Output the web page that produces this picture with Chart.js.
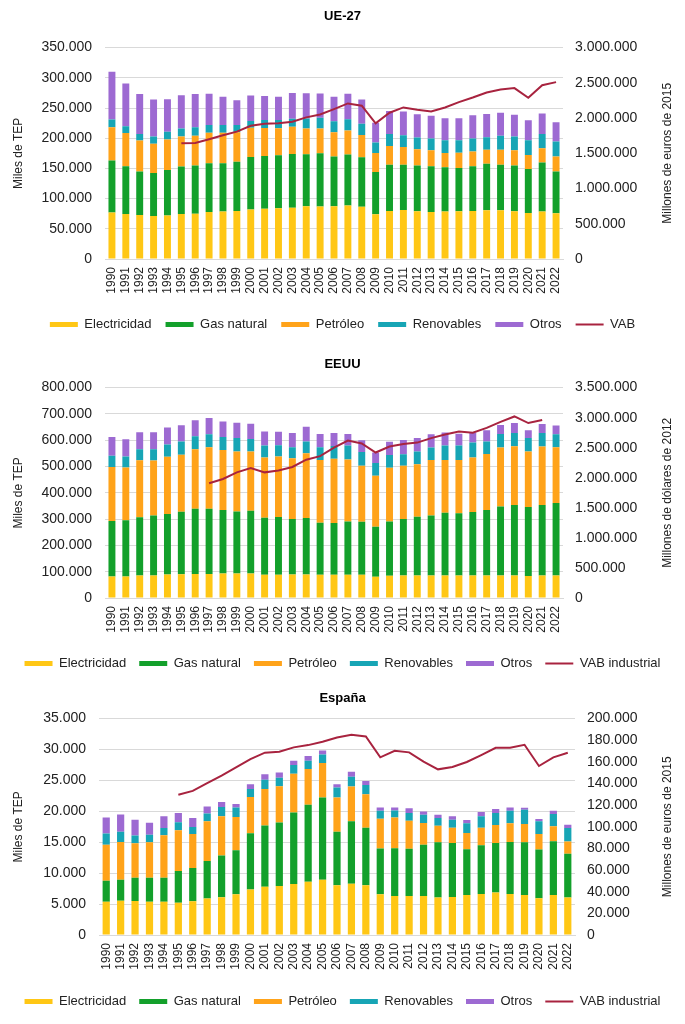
<!DOCTYPE html>
<html>
<head>
<meta charset="utf-8">
<script src="https://cdn.jsdelivr.net/npm/chart.js@4.4.1/dist/chart.umd.min.js"></script>
<style>
	html, body { margin: 0; padding: 0; background: #fff; }
	.box { position: absolute; left: 0; width: 685px; }
</style>
</head>
<body>
<div class="box" style="top:0px;height:350px"><canvas id="chartUE"></canvas></div>
<div class="box" style="top:342px;height:350px"><canvas id="chartUS"></canvas></div>
<div class="box" style="top:680px;height:344px"><canvas id="chartES"></canvas></div>
<script>
'use strict'

const years = ['1990','1991','1992','1993','1994','1995','1996','1997','1998','1999','2000','2001','2002','2003','2004','2005','2006','2007','2008','2009','2010','2011','2012','2013','2014','2015','2016','2017','2018','2019','2020','2021','2022']
const seriesNames = ['Electricidad', 'Gas natural', 'Petróleo', 'Renovables', 'Otros']

// UE-27 (miles de TEP / millones de euros de 2015)
const ueElectricidad = [77000,74600,73000,71000,72000,74600,75000,78000,78500,79500,81800,83400,84000,85000,87300,87000,87300,88400,86700,74000,79600,81000,79000,78000,78500,79000,79600,80700,80700,79000,76000,78500,75700]
const ueGas = [86000,79000,72000,71500,75500,78400,80000,80600,80000,81500,87200,87300,87800,89000,86200,88000,82300,84600,81800,70000,76400,75000,75700,75600,73500,71800,74000,76800,75300,76000,73000,81200,69300]
const uePetroleo = [55000,55000,51000,48500,50500,50000,49000,50400,50500,49000,48500,46300,44800,45000,42500,41000,40400,39700,37000,31700,31000,29600,27100,26400,23700,25200,24400,23200,25000,25000,23000,23700,24600]
const ueRenovables = [13000,11000,11000,12000,12500,13000,14000,13000,13000,12000,11000,13000,13400,13000,16600,18000,18000,18800,18500,17100,20000,19400,19200,19400,21000,20700,21400,21000,23000,22800,24700,23600,24900]
const ueOtros = [79000,71000,66000,61000,54000,55000,55000,51500,46500,41000,42000,40000,38500,43000,42000,40000,40500,42000,40000,32600,38000,39000,38800,37600,36300,36300,38600,38300,38000,35900,33100,34000,32000]
const ueVab = [null,null,null,null,null,1642000,1645000,1700000,1755000,1807000,1890000,1920000,1925000,1948000,2010000,2050000,2127000,2208000,2175000,1925000,2076000,2151000,2118000,2094000,2151000,2226000,2292000,2363000,2406000,2425000,2288000,2467000,2510000]

// EEUU (miles de TEP / millones de dólares de 2012)
const usElectricidad = [82000,82000,86000,86000,89000,90000,91000,91000,93000,93000,93000,88000,88000,89000,89000,88000,88000,88000,88000,81000,85000,86000,86000,86000,86000,86000,86000,86000,86000,86000,84000,86000,86000]
const usGas = [211000,214000,221000,228000,230000,238000,248000,248000,242000,236000,239000,217000,220000,211000,215000,198000,197000,203000,202000,190000,206000,214000,223000,228000,238000,236000,241000,249000,262000,268000,262000,268000,275000]
const usPetroleo = [205000,200000,217000,209000,218000,217000,227000,234000,228000,228000,225000,229000,230000,231000,246000,239000,244000,236000,213000,194000,204000,203000,200000,211000,201000,203000,207000,213000,224000,223000,211000,222000,212000]
const usRenovables = [43000,42000,42000,43000,47000,50000,49000,50000,49000,51000,48000,46000,43000,42000,45000,48000,49000,53000,52000,48000,49000,44000,48000,47000,55000,55000,57000,47000,52000,50000,51000,51000,50000]
const usOtros = [71000,66000,64000,64000,64000,62000,61000,61000,59000,58000,58000,53000,51000,54000,56000,51000,49000,44000,45000,40000,50000,54000,51000,51000,49000,45000,37000,43000,34000,38000,30000,35000,33000]
const usVab = [null,null,null,null,null,null,null,1910000,1980000,2090000,2160000,2090000,2120000,2180000,2300000,2360000,2500000,2620000,2570000,2420000,2520000,2560000,2585000,2660000,2720000,2770000,2750000,2830000,2930000,3020000,2910000,2960000,null]

// España (miles de TEP / millones de euros de 2015)
const esElectricidad = [5360,5520,5500,5360,5360,5200,5470,5900,6100,6600,7340,7820,7930,8250,8630,8950,8040,8300,8040,6600,6320,6320,6320,6060,6160,6480,6650,6860,6650,6480,5950,6480,6060]
const esGas = [3430,3430,3770,3910,3910,5140,5360,6050,6760,7120,9110,9880,10270,11580,12430,13290,8660,10080,9320,7390,7720,7610,8260,8940,8740,7400,7870,8040,8410,8520,7880,8690,7070]
const esPetroleo = [5790,6110,5570,5730,6860,6590,5510,6430,6330,5360,5850,5900,5860,6270,5790,5560,5540,5620,5420,4810,4960,4560,3530,2680,2460,2620,2840,2900,3000,2950,2510,2410,1980]
const esRenovables = [1820,1640,1240,1200,1170,1290,1130,1290,1500,1550,1300,1500,1390,1400,1340,1400,1610,1600,1500,1300,1150,1230,1340,1240,1290,1560,1830,1920,2040,2310,2040,1980,2190]
const esOtros = [2600,2800,2570,1970,1890,1500,1450,1130,810,570,800,900,850,700,750,650,550,800,620,530,480,780,540,530,540,540,690,640,530,320,380,540,550]
const esVab = [null,null,null,null,null,129600,133200,140300,147300,155000,162600,168500,169400,173400,175500,178600,182500,185000,183500,164200,170300,168800,160200,153100,155300,159900,166300,173000,173000,175800,156200,164200,168500]

const colors = {
	electricidad: '#FFC715',
	gas: '#13A02B',
	petroleo: '#FFA31A',
	renovables: '#17A5B5',
	otros: '#9D6AD2',
	vab: '#A8233F',
	grid: '#D9D9D9',
	text: '#222222',
}
const barColors = [colors.electricidad, colors.gas, colors.petroleo, colors.renovables, colors.otros]
const fontFamily = '"Liberation Sans", Arial, sans-serif'

let fmt = function(v) {
	return String(v).replace(/\B(?=(\d{3})+(?!\d))/g, '.')
}

// right axis title reads bottom-to-top like the left one
const rightTitle = {
	id: 'rightTitle',
	afterDraw(chart, args, opts) {
		const { ctx, chartArea } = chart
		ctx.save()
		ctx.translate(opts.x, (chartArea.top + chartArea.bottom) / 2)
		ctx.rotate(-Math.PI / 2)
		ctx.textAlign = 'center'
		ctx.textBaseline = 'middle'
		ctx.font = '12px ' + fontFamily
		ctx.fillStyle = colors.text
		ctx.fillText(opts.text, 0, 0)
		ctx.restore()
	},
}

let makeChart = function(id, cfg) {
	let datasets = cfg.bars.map((values, i) => ({
		type: 'bar',
		label: seriesNames[i],
		data: values,
		backgroundColor: barColors[i],
		borderWidth: 0,
		barPercentage: 0.5,
		categoryPercentage: 1,
		yAxisID: 'y',
		order: 1,
	}))
	datasets.push({
		type: 'line',
		label: cfg.lineLabel,
		data: cfg.line,
		borderColor: colors.vab,
		backgroundColor: colors.vab,
		borderWidth: 2,
		pointRadius: 0,
		tension: 0,
		yAxisID: 'y1',
		order: 0,
	})

	return new Chart(document.getElementById(id), {
		type: 'bar',
		data: { labels: years, datasets: datasets },
		options: {
			responsive: true,
			maintainAspectRatio: false,
			animation: false,
			layout: { padding: { left: 0, right: 0, top: 0, bottom: cfg.padBottom } },
			plugins: {
				title: {
					display: true,
					text: cfg.title,
					color: '#000',
					font: { family: fontFamily, size: 13, weight: 'bold' },
					padding: { top: cfg.titleTop, bottom: cfg.titleBottom },
				},
				legend: {
					position: 'bottom',
					labels: {
						usePointStyle: true,
						pointStyleWidth: 28,
						boxWidth: 28,
						boxHeight: 5,
						padding: cfg.legendGap,
						color: colors.text,
						font: { family: fontFamily, size: 13 },
						generateLabels(chart) {
							let items = Chart.defaults.plugins.legend.labels.generateLabels(chart)
							items.forEach((it) => {
								it.pointStyle = chart.data.datasets[it.datasetIndex].type === 'line' ? 'line' : 'rect'
							})
							items.sort((a, b) => a.datasetIndex - b.datasetIndex)
							return items
						},
					},
				},
				tooltip: { enabled: false },
				rightTitle: { text: cfg.rightTitle, x: 668 },
			},
			scales: {
				x: {
					stacked: true,
					grid: { display: false },
					border: { display: true, color: colors.grid },
					ticks: {
						autoSkip: false,
						minRotation: 90,
						maxRotation: 90,
						padding: 0,
						color: colors.text,
						font: { family: fontFamily, size: 12 },
					},
					afterFit(scale) { scale.height = cfg.xHeight },
				},
				y: {
					stacked: true,
					min: 0,
					max: cfg.yMax,
					grid: { color: colors.grid, drawTicks: false },
					border: { display: false },
					ticks: {
						stepSize: cfg.yStep,
						autoSkip: false,
						padding: 13,
						color: colors.text,
						font: { family: fontFamily, size: 14 },
						callback: (v) => fmt(v),
					},
					title: {
						display: true,
						text: 'Miles de TEP',
						color: colors.text,
						font: { family: fontFamily, size: 12 },
						padding: { top: 11, bottom: 0 },
					},
					afterFit(scale) { scale.width = cfg.left },
				},
				y1: {
					position: 'right',
					min: 0,
					max: cfg.y1Max,
					grid: { display: false, drawTicks: false },
					border: { display: false },
					ticks: {
						stepSize: cfg.y1Step,
						autoSkip: false,
						padding: 12,
						color: colors.text,
						font: { family: fontFamily, size: 14 },
						callback: (v) => fmt(v),
					},
					afterFit(scale) { scale.width = cfg.right },
				},
			},
		},
		plugins: [rightTitle],
	})
}

makeChart('chartUE', {
	title: 'UE-27',
	bars: [ueElectricidad, ueGas, uePetroleo, ueRenovables, ueOtros],
	line: ueVab,
	lineLabel: 'VAB',
	rightTitle: 'Millones de euros de 2015',
	yMax: 350000, yStep: 50000,
	y1Max: 3000000, y1Step: 500000,
	left: 105, right: 122,
	titleTop: 9, titleBottom: 23, padBottom: 9,
	xHeight: 45, legendGap: 14,
})

makeChart('chartUS', {
	title: 'EEUU',
	bars: [usElectricidad, usGas, usPetroleo, usRenovables, usOtros],
	line: usVab,
	lineLabel: 'VAB industrial',
	rightTitle: 'Millones de dólares de 2012',
	yMax: 800000, yStep: 100000,
	y1Max: 3500000, y1Step: 500000,
	left: 105, right: 122,
	titleTop: 15, titleBottom: 15, padBottom: 12,
	xHeight: 46, legendGap: 13,
})

makeChart('chartES', {
	title: 'España',
	bars: [esElectricidad, esGas, esPetroleo, esRenovables, esOtros],
	line: esVab,
	lineLabel: 'VAB industrial',
	rightTitle: 'Millones de euros de 2015',
	yMax: 35000, yStep: 5000,
	y1Max: 200000, y1Step: 20000,
	left: 99, right: 110,
	titleTop: 11, titleBottom: 12, padBottom: 6,
	xHeight: 47, legendGap: 13,
})
</script>
</body>
</html>
